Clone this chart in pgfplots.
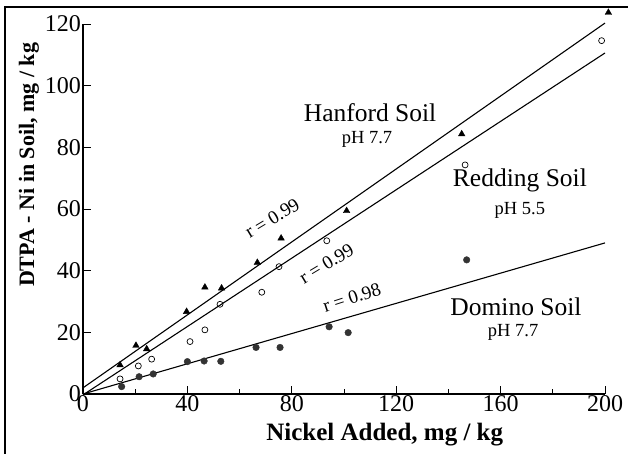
\documentclass[border=0pt]{standalone}
\usepackage{pgfplots}
\pgfplotsset{compat=1.18}
\usepackage{fontspec}
\setmainfont{Liberation Serif}
\definecolor{dotgrey}{HTML}{333333}
\begin{document}
\begin{tikzpicture}[x=1pt,y=1pt]
\path[use as bounding box] (-83,-60) rectangle (545,394);
\draw[line width=1.6pt] (-78,-62) -- (-78,387) -- (547,387);
\begin{axis}[
  at={(0,0)}, anchor=south west, scale only axis,
  width=522pt, height=370pt,
  xmin=0, xmax=200, ymin=0, ymax=120,
  axis x line=bottom, axis y line=left,
  axis line style={-, line width=1.1pt},
  clip=false,
  xtick={0,40,...,200}, minor xtick={20,60,...,180},
  ytick={0,20,...,120},
  tick align=inside, major tick length=8pt, minor tick length=5pt,
  tick style={line width=0.9pt, black},
  /pgf/number format/assume math mode=true,
  ticklabel style={font=\fontsize{24}{26}\selectfont},
  xticklabel style={inner sep=1pt},
  yticklabel style={inner sep=2pt},
  xlabel={Nickel Added, mg / kg},
  ylabel={DTPA - Ni in Soil, mg / kg},
  xlabel style={font=\fontsize{25}{28}\selectfont\bfseries, at={(axis description cs:0.578,-0.11)}, anchor=center},
  ylabel style={font=\fontsize{22}{26}\selectfont\bfseries, at={(axis description cs:-0.1034,0.619)}, anchor=center},
]
% regression lines
\addplot[black, line width=1.1pt] coordinates {(0,2) (200,120.3)};
\addplot[black, line width=1.1pt] coordinates {(0,-0.3) (200,110.6)};
\addplot[black, line width=1.1pt] coordinates {(0,0) (200,49)};
% Hanford
\addplot[only marks, mark=triangle*, mark size=3.8pt, black] coordinates {
(14.2,9.4) (20.3,15.7) (24.4,14.6) (39.7,26.7) (46.7,34.6) (53.1,34.3)
(66.8,42.6) (75.9,50.5) (101.0,59.4) (145.1,84.3) (201.3,123.7)};
% Redding
\addplot[only marks, mark=o, mark size=3pt, black, line width=0.7pt] coordinates {
(14.2,4.9) (21.2,9.1) (26.3,11.3) (41.0,17.0) (46.7,20.8) (52.5,29.1)
(68.5,33.0) (75.1,41.3) (93.4,49.7) (146.4,74.3) (198.7,114.6)};
% Domino
\addplot[only marks, mark=*, mark size=3.3pt, draw=dotgrey, fill=dotgrey] coordinates {
(14.8,2.4) (21.5,5.6) (26.9,6.5) (40.0,10.5) (46.4,10.7) (52.8,10.6)
(66.3,15.1) (75.5,15.1) (94.3,21.8) (101.6,19.9) (147,43.5)};
% annotations
\node[font=\fontsize{25.5}{28}\selectfont] at (axis cs:110,91.2) {Hanford Soil};
\node[font=\fontsize{18.5}{20}\selectfont] at (axis cs:108.8,82.6) {pH 7.7};
\node[font=\fontsize{25.5}{28}\selectfont] at (axis cs:167.4,69.3) {Redding Soil};
\node[font=\fontsize{18.5}{20}\selectfont] at (axis cs:167.4,59.4) {pH 5.5};
\node[font=\fontsize{25.5}{28}\selectfont] at (axis cs:165.9,28.4) {Domino Soil};
\node[font=\fontsize{18.5}{20}\selectfont] at (axis cs:164.8,19.9) {pH 7.7};
\node[font=\fontsize{19}{20}\selectfont, rotate=31] at (axis cs:72.5,57) {r = 0.99};
\node[font=\fontsize{19}{20}\selectfont, rotate=31] at (axis cs:93.3,42.3) {r = 0.99};
\node[font=\fontsize{19}{20}\selectfont, rotate=18] at (axis cs:103,31.3) {r = 0.98};
\end{axis}
\end{tikzpicture}
\end{document}
